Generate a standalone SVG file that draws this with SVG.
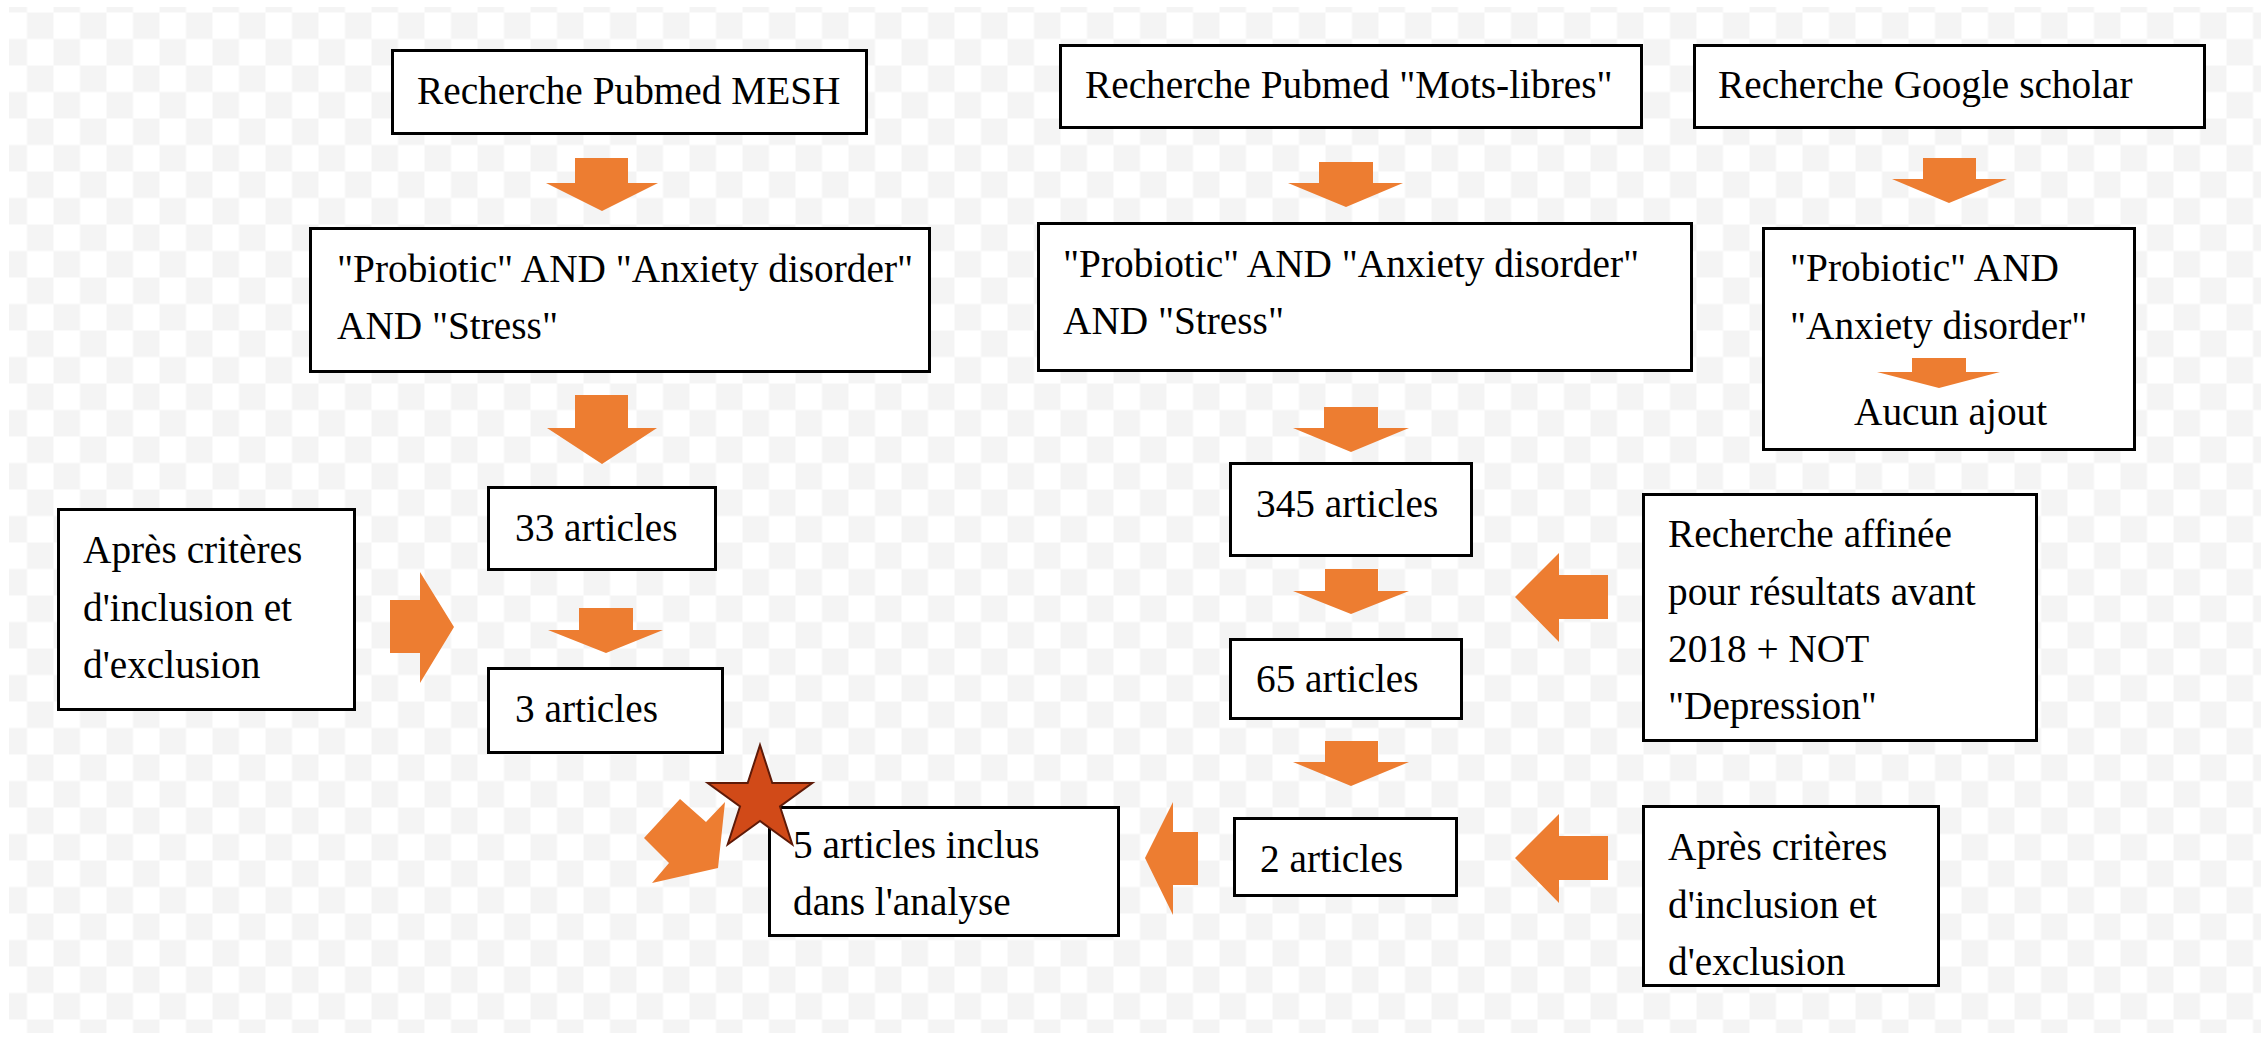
<svg xmlns="http://www.w3.org/2000/svg" width="2267" height="1039" viewBox="0 0 2267 1039">
<style>
.box{fill:#ffffff;stroke:#000000;stroke-width:3}
.t{font-family:"Liberation Serif","Times New Roman",serif;font-size:39.3px;fill:#000000}
.arr{fill:#ED7D31}
.star{fill:#D14A18;stroke:#5E1A08;stroke-width:2;stroke-linejoin:miter}
</style>
<defs>
<pattern id="checker" x="0.5" y="12.5" width="53" height="53" patternUnits="userSpaceOnUse">
<rect x="0" y="0" width="53" height="53" fill="#ffffff"/>
<rect x="26.5" y="0" width="26.5" height="26.5" fill="#f4f4f4"/>
<rect x="0" y="26.5" width="26.5" height="26.5" fill="#f4f4f4"/>
</pattern>
</defs>
<rect x="0" y="0" width="2267" height="1039" fill="#ffffff"/>
<rect x="9" y="7" width="2252" height="1026" fill="url(#checker)"/>

<g id="node-pubmed-mesh">
<rect class="box" x="392.5" y="50.5" width="474" height="83"/>
<text class="t" x="417" y="104">Recherche Pubmed MESH</text>
</g>
<g id="node-pubmed-motslibres">
<rect class="box" x="1060.5" y="45.5" width="581" height="82"/>
<text class="t" x="1085" y="98">Recherche Pubmed "Mots-libres"</text>
</g>
<g id="node-google-scholar">
<rect class="box" x="1694.5" y="45.5" width="510" height="82"/>
<text class="t" x="1718" y="98">Recherche Google scholar</text>
</g>
<g id="node-query-mesh">
<rect class="box" x="310.5" y="228.5" width="619" height="143"/>
<text class="t" x="337" y="282">"Probiotic" AND "Anxiety disorder"<tspan x="337" y="339">AND "Stress"</tspan></text>
</g>
<g id="node-query-motslibres">
<rect class="box" x="1038.5" y="223.5" width="653" height="147"/>
<text class="t" x="1063" y="277">"Probiotic" AND "Anxiety disorder"<tspan x="1063" y="334">AND "Stress"</tspan></text>
</g>
<g id="node-query-google">
<rect class="box" x="1763.5" y="228.5" width="371" height="221"/>
<text class="t" x="1790" y="281">"Probiotic" AND<tspan x="1790" y="339">"Anxiety disorder"</tspan></text>
<text class="t" x="1854" y="425">Aucun ajout</text>
</g>
<g id="node-33">
<rect class="box" x="488.5" y="487.5" width="227" height="82"/>
<text class="t" x="515" y="541">33 articles</text>
</g>
<g id="node-3">
<rect class="box" x="488.5" y="668.5" width="234" height="84"/>
<text class="t" x="515" y="722">3 articles</text>
</g>
<g id="node-criteria-left">
<rect class="box" x="58.5" y="509.5" width="296" height="200"/>
<text class="t" x="83" y="563">Après critères<tspan x="83" y="621">d'inclusion et</tspan><tspan x="83" y="678">d'exclusion</tspan></text>
</g>
<g id="node-345">
<rect class="box" x="1230.5" y="463.5" width="241" height="92"/>
<text class="t" x="1256" y="517">345 articles</text>
</g>
<g id="node-65">
<rect class="box" x="1230.5" y="639.5" width="231" height="79"/>
<text class="t" x="1256" y="692">65 articles</text>
</g>
<g id="node-2">
<rect class="box" x="1234.5" y="818.5" width="222" height="77"/>
<text class="t" x="1260" y="872">2 articles</text>
</g>
<g id="node-refined">
<rect class="box" x="1643.5" y="494.5" width="393" height="246"/>
<text class="t" x="1668" y="547">Recherche affinée<tspan x="1668" y="605">pour résultats avant</tspan><tspan x="1668" y="662">2018 + NOT</tspan><tspan x="1668" y="719">"Depression"</tspan></text>
</g>
<g id="node-criteria-right">
<rect class="box" x="1643.5" y="806.5" width="295" height="179"/>
<text class="t" x="1668" y="860">Après critères<tspan x="1668" y="918">d'inclusion et</tspan><tspan x="1668" y="975">d'exclusion</tspan></text>
</g>
<g id="node-final">
<rect class="box" x="769.5" y="807.5" width="349" height="128"/>
<text class="t" x="793" y="858">5 articles inclus<tspan x="793" y="915">dans l'analyse</tspan></text>
</g>

<g id="connectors">
<polygon class="arr" points="575,158 628,158 628,183 658,183 602,211 546,183 575,183"/>
<polygon class="arr" points="575,395 628,395 628,428 657,428 602,464 547,428 575,428"/>
<polygon class="arr" points="579,608 633,608 633,630 663,630 606,653 548,630 579,630"/>
<polygon class="arr" points="1319,162 1373,162 1373,183 1403,183 1346,207 1288,183 1319,183"/>
<polygon class="arr" points="1324,407 1378,407 1378,428 1409,428 1351,452 1293,428 1324,428"/>
<polygon class="arr" points="1325,569 1378,569 1378,591 1409,591 1351,614 1293,591 1325,591"/>
<polygon class="arr" points="1325,741 1378,741 1378,762 1409,762 1351,786 1293,762 1325,762"/>
<polygon class="arr" points="1923,158 1976,158 1976,179 2007,179 1949,203 1892,179 1923,179"/>
<polygon class="arr" points="1912,358 1966,358 1966,372 2000,372 1939,388 1877,372 1912,372"/>
<polygon class="arr" points="390,600 420,600 420,572 454,627 420,683 420,653 390,653"/>
<polygon class="arr" points="1608,575 1559,575 1559,553 1515,597 1559,642 1559,619 1608,619"/>
<polygon class="arr" points="1608,836 1559,836 1559,814 1515,858 1559,903 1559,880 1608,880"/>
<polygon class="arr" points="1198,832 1173,832 1173,802 1145,858 1173,915 1173,885 1198,885"/>
<polygon class="arr" points="680,799 706,822 725,802 718,868 652,883 669,863 644,838"/>
</g>

<g id="star">
<polygon class="star" points="760,745 772.3,783 812.3,783 780,806.5 792.3,844.5 760,821 727.7,844.5 740,806.5 707.7,783 747.7,783"/>
</g>
</svg>
